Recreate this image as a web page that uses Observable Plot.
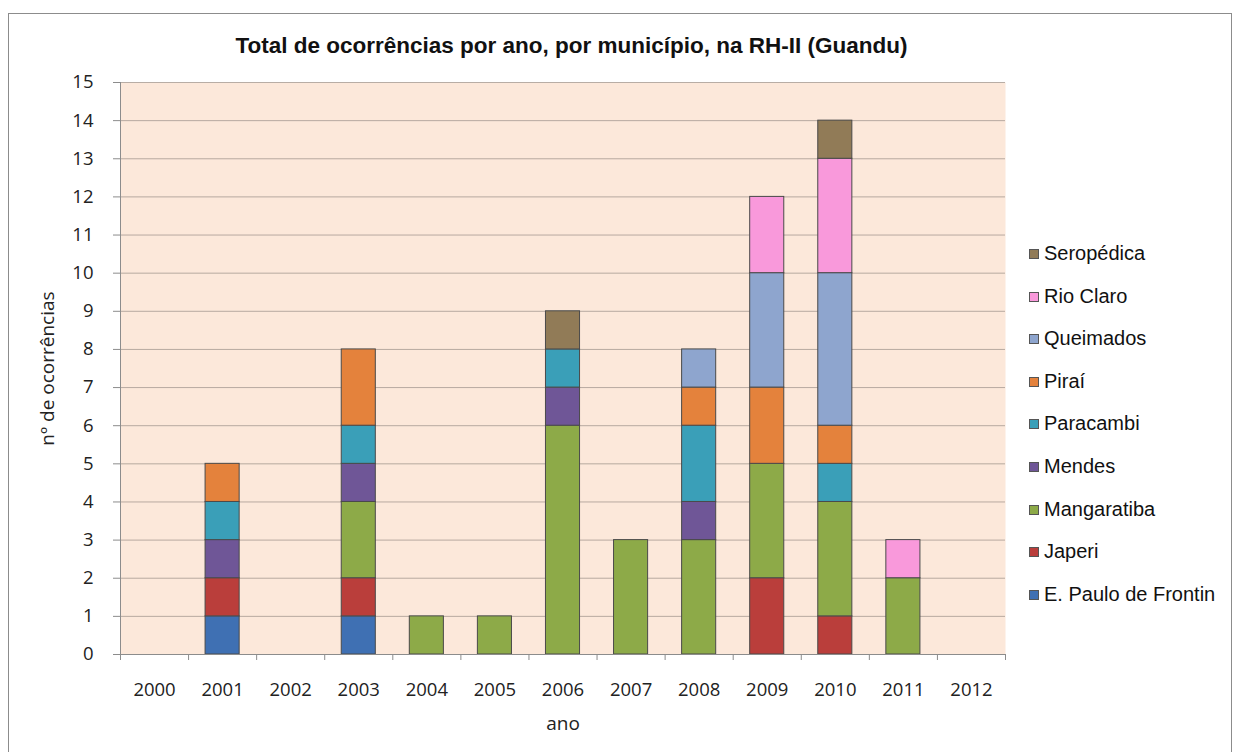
<!DOCTYPE html>
<html><head><meta charset="utf-8">
<script src="https://cdn.jsdelivr.net/npm/d3@7"></script>
<script src="https://cdn.jsdelivr.net/npm/@observablehq/plot@0.6"></script>
<style>
html,body{margin:0;padding:0;background:#fff;}
#page{position:relative;width:1239px;height:752px;overflow:hidden;font-family:"Liberation Sans",Arial,sans-serif;}
#frame{position:absolute;left:8px;top:13px;width:1224px;height:740px;border:1px solid #8c8c8c;box-sizing:border-box;}
#title{position:absolute;left:129px;width:885px;top:33px;text-align:center;font-weight:bold;font-size:22.5px;color:#111;}
#chart{position:absolute;left:0;top:62px;}
#chart svg text{font-size:18.5px;}
#chart svg g[aria-label="y-axis label"] text,#chart svg g[aria-label="x-axis label"] text{font-size:19px;}
#legend{position:absolute;left:1029px;top:241px;}
.li{position:absolute;left:0;white-space:nowrap;font-size:20px;color:#111;line-height:24px;}
.sw{display:inline-block;width:10px;height:10px;border:1px solid #555;box-sizing:border-box;margin-right:5px;vertical-align:1px;}
</style></head>
<body><div id="page"><div id="frame"></div><div id="title">Total de ocorrências por ano, por município, na RH-II (Guandu)</div><div id="chart"></div><div id="legend"></div></div>
<script>
const years = [2000,2001,2002,2003,2004,2005,2006,2007,2008,2009,2010,2011,2012];
const municipios = ["E. Paulo de Frontin","Japeri","Mangaratiba","Mendes","Paracambi","Piraí","Queimados","Rio Claro","Seropédica"];
const colors = ["#3F70B3","#BA3E3B","#8DAA48","#6F5697","#3A9FB8","#E4823C","#8EA5CE","#F999DB","#917B57"];
// counts per year (2000..2012)
const ePauloDeFrontin = [0,1,0,1,0,0,0,0,0,0,0,0,0];
const japeri          = [0,1,0,1,0,0,0,0,0,2,1,0,0];
const mangaratiba     = [0,0,0,2,1,1,6,3,3,3,3,2,0];
const mendes          = [0,1,0,1,0,0,1,0,1,0,0,0,0];
const paracambi       = [0,1,0,1,0,0,1,0,2,0,1,0,0];
const pirai           = [0,1,0,2,0,0,0,0,1,2,1,0,0];
const queimados       = [0,0,0,0,0,0,0,0,1,3,4,0,0];
const rioClaro        = [0,0,0,0,0,0,0,0,0,2,3,1,0];
const seropedica      = [0,0,0,0,0,0,1,0,0,0,1,0,0];
const series = [ePauloDeFrontin,japeri,mangaratiba,mendes,paracambi,pirai,queimados,rioClaro,seropedica];
const yTicks = d3.range(0,16);

const data = [];
years.forEach((yr,i)=>{
  municipios.forEach((m,j)=>{
    if (series[j][i] > 0) data.push({year: yr, mun: m, value: series[j][i]});
  });
});

const chart = Plot.plot({
  width: 1010, height: 680,
  marginLeft: 120, marginRight: 5, marginTop: 20, marginBottom: 88,
  style: {fontFamily: "'Open Sans', sans-serif", fontSize: "18px", color: "#222", background: "transparent"},
  x: {domain: [years[0], years[years.length-1]+1]},
  y: {domain: [0, 15]},
  color: {domain: municipios, range: colors},
  marks: [
    Plot.frame({fill: "#FCE8DA", stroke: null}),
    Plot.gridY(yTicks, {stroke: "#9a8f88", strokeOpacity: 0.7}),
    Plot.rectY(data, {x: "year", interval: 1, y: "value", fill: "mun", stroke: "#4a4a4a", strokeWidth: 1, insetLeft: 17, insetRight: 17}),
    Plot.ruleX([years[0]], {stroke: "#8c8c8c"}),
    Plot.ruleY([0], {stroke: "#8c8c8c"}),
    Plot.axisY({ticks: yTicks, tickSize: 7, tickPadding: 20, stroke: "#8c8c8c", label: "nº de ocorrências", labelAnchor: "center", labelArrow: "none", labelOffset: 80}),
    Plot.axisX({ticks: years.concat([years[years.length-1]+1]), tickSize: 6, tickFormat: () => "", stroke: "#8c8c8c", label: null}),
    Plot.axisX({ticks: years.map(y=>y+0.5), tickSize: 0, tickPadding: 28, tickFormat: d => String(Math.floor(d)), label: "ano", labelAnchor: "center", labelArrow: "none", labelOffset: 75}),
  ]
});
document.getElementById("chart").appendChild(chart);
const legend = document.getElementById("legend");
const order = municipios.map((m,i)=>({m, c: colors[i]})).reverse();
order.forEach((o,k)=>{
  const d = document.createElement("div");
  d.className = "li";
  d.style.top = (k*42.6) + "px";
  d.innerHTML = `<span class="sw" style="background:${o.c}"></span>${o.m}`;
  legend.appendChild(d);
});
</script></body></html>
